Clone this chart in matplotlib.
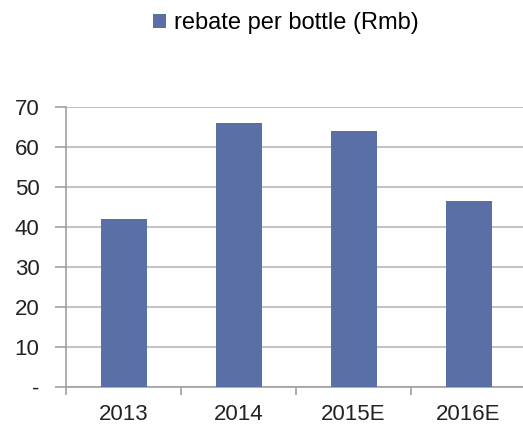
import matplotlib
matplotlib.use("Agg")
import matplotlib.pyplot as plt
from matplotlib.ticker import FixedLocator

categories = ["2013", "2014", "2015E", "2016E"]
rebate = [42, 66, 64, 46.5]
yticks = [0, 10, 20, 30, 40, 50, 60, 70]
ytick_labels = ["-", "10", "20", "30", "40", "50", "60", "70"]
series_name = "rebate per bottle (Rmb)"

plt.rcParams['font.family'] = ['Liberation Sans', 'DejaVu Sans']

W, H = 523, 424
fig = plt.figure(figsize=(W/100, H/100), dpi=100)
left = 66/W
bottom = 1 - 387/H
top = 1 - 106.7/H
right = 526/W
ax = fig.add_axes([left, bottom, right-left, top-bottom])

bar_color = "#5A6FA6"
x = list(range(len(categories)))
ax.bar(x, rebate, width=0.4, color=bar_color, zorder=3, label=series_name)

ax.set_xlim(-0.5, len(categories)-0.5)
ax.set_ylim(0, 70)
ax.set_yticks(yticks)
ax.set_yticklabels(ytick_labels)
ax.yaxis.grid(True, color="#c4c4c4", linewidth=1.5, zorder=0)
ax.set_axisbelow(True)

ax.set_xticks(x)
ax.set_xticklabels(categories)
ax.xaxis.set_minor_locator(FixedLocator([i-0.5 for i in range(len(categories)+1)]))
ax.tick_params(axis='x', which='major', length=0, pad=12, labelsize=16, labelcolor="#222222")
ax.tick_params(axis='x', which='minor', length=6, width=1.2, color="#a0a0a0", direction='out')
ax.tick_params(axis='y', which='major', length=8, width=1.2, color="#a0a0a0", pad=11,
               labelsize=16, labelcolor="#222222")

for s in ['top', 'right']:
    ax.spines[s].set_visible(False)
for s in ['left', 'bottom']:
    ax.spines[s].set_color("#a0a0a0")
    ax.spines[s].set_linewidth(1.2)

fig.legend(handles=[ax.patches[0]], labels=[series_name], loc='center',
           bbox_to_anchor=(286/W, 1 - 23/H), frameon=False, fontsize=17,
           handlelength=0.55, handleheight=0.55, handletextpad=0.35)

fig.savefig("out.png", dpi=100)
